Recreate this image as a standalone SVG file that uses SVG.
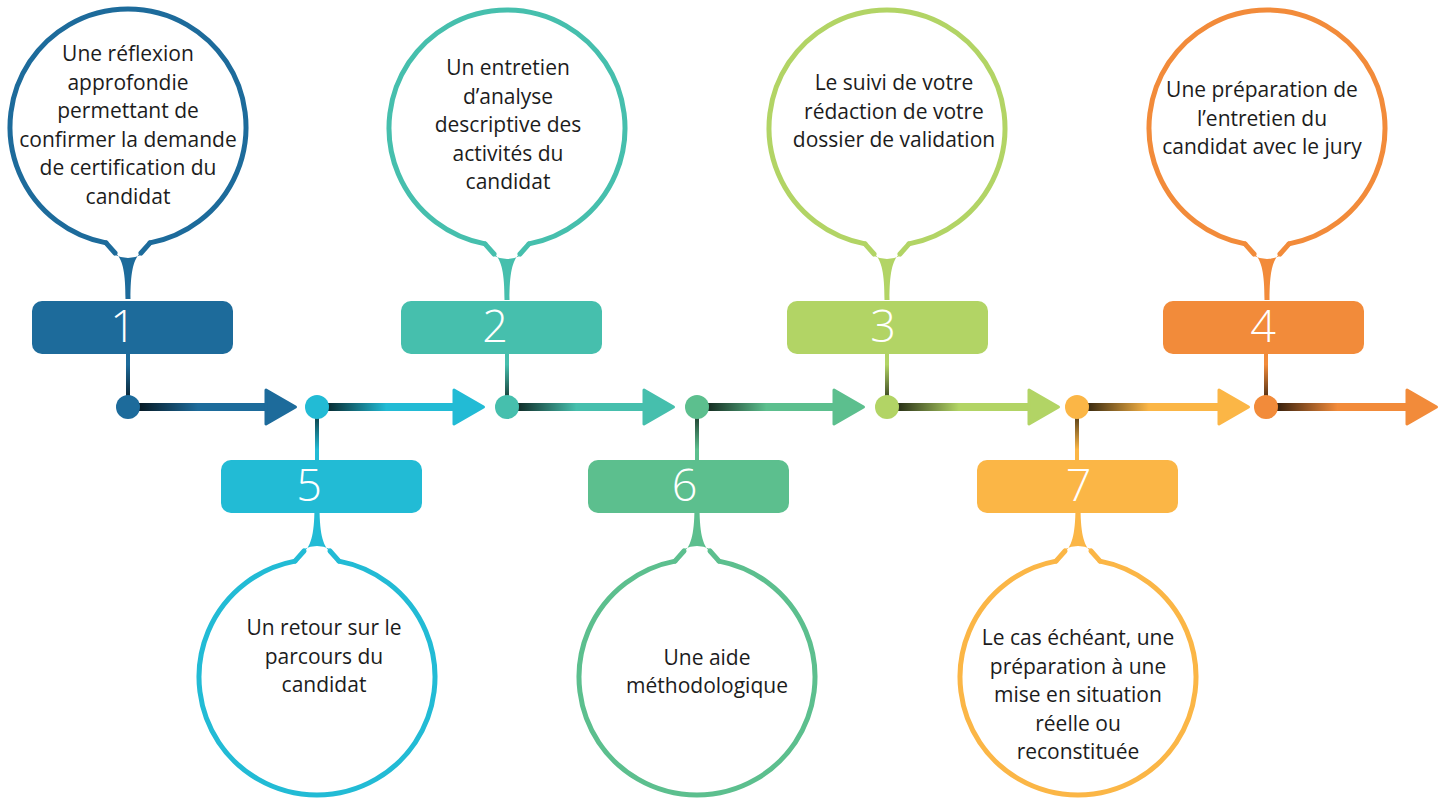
<svg xmlns="http://www.w3.org/2000/svg" xmlns:xlink="http://www.w3.org/1999/xlink" width="1448" height="803" viewBox="0 0 1448 803">
<style>
.t{font-family:"Open Sans","Liberation Sans",sans-serif;font-size:21px;fill:#1c1c1c;text-anchor:middle}
.n{font-family:"Open Sans","Liberation Sans",sans-serif;font-size:45px;font-weight:300;fill:#ffffff;text-anchor:middle}
.head{stroke-width:3;stroke-linejoin:round}
</style>
<defs>
<linearGradient id="fadeR" x1="0" y1="0" x2="1" y2="0">
<stop offset="0.06" stop-color="#000" stop-opacity="0.8"/>
<stop offset="0.5" stop-color="#000" stop-opacity="0"/>
</linearGradient>
<linearGradient id="fadeDown" x1="0" y1="0" x2="0" y2="1">
<stop offset="0.25" stop-color="#000" stop-opacity="0"/>
<stop offset="1" stop-color="#000" stop-opacity="0.75"/>
</linearGradient>
<linearGradient id="fadeUp" x1="0" y1="0" x2="0" y2="1">
<stop offset="0" stop-color="#000" stop-opacity="0.75"/>
<stop offset="0.75" stop-color="#000" stop-opacity="0"/>
</linearGradient>
<g id="bubble">
<path d="M -22,115.9 A 118 118 0 1 1 22,115.9" fill="#ffffff" stroke="currentColor" stroke-width="5" stroke-linecap="round"/>
<path d="M -22,115.9 L -13,126 M 22,115.9 L 13,126" fill="none" stroke="currentColor" stroke-width="5" stroke-linecap="round"/>
<path d="M -15,123.5 C -6,130 -2.5,142 -2.5,172 L 2.5,172 C 2.5,142 6,130 15,123.5 L 13,128 Q 0,134 -13,128 Z" fill="currentColor"/>
</g>
</defs>
<rect width="1448" height="803" fill="#ffffff"/>

<g id="connectors">
<rect x="126" y="352" width="4" height="50" fill="#1d6b9b"/><rect x="126" y="352" width="4" height="50" fill="url(#fadeDown)"/>
<rect x="505" y="352" width="4" height="50" fill="#46bfad"/><rect x="505" y="352" width="4" height="50" fill="url(#fadeDown)"/>
<rect x="885" y="352" width="4" height="50" fill="#b2d465"/><rect x="885" y="352" width="4" height="50" fill="url(#fadeDown)"/>
<rect x="1264" y="352" width="4" height="50" fill="#f28b3a"/><rect x="1264" y="352" width="4" height="50" fill="url(#fadeDown)"/>
<rect x="315" y="412" width="4" height="50" fill="#22bbd5"/><rect x="315" y="412" width="4" height="50" fill="url(#fadeUp)"/>
<rect x="695" y="412" width="4" height="50" fill="#5cbf8e"/><rect x="695" y="412" width="4" height="50" fill="url(#fadeUp)"/>
<rect x="1075" y="412" width="4" height="50" fill="#fbb646"/><rect x="1075" y="412" width="4" height="50" fill="url(#fadeUp)"/>
<g fill="#1d6b9b" stroke="#1d6b9b"><rect x="128" y="403" width="140" height="8" stroke="none"/><rect x="128" y="403" width="140" height="8" stroke="none" fill="url(#fadeR)"/><polygon class="head" points="266,390 295.5,407 266,424"/></g>
<g fill="#22bbd5" stroke="#22bbd5"><rect x="317" y="403" width="139" height="8" stroke="none"/><rect x="317" y="403" width="139" height="8" stroke="none" fill="url(#fadeR)"/><polygon class="head" points="454,390 483.5,407 454,424"/></g>
<g fill="#46bfad" stroke="#46bfad"><rect x="507" y="403" width="139" height="8" stroke="none"/><rect x="507" y="403" width="139" height="8" stroke="none" fill="url(#fadeR)"/><polygon class="head" points="644,390 673.5,407 644,424"/></g>
<g fill="#5cbf8e" stroke="#5cbf8e"><rect x="697" y="403" width="139" height="8" stroke="none"/><rect x="697" y="403" width="139" height="8" stroke="none" fill="url(#fadeR)"/><polygon class="head" points="834,390 863.5,407 834,424"/></g>
<g fill="#b2d465" stroke="#b2d465"><rect x="887" y="403" width="144" height="8" stroke="none"/><rect x="887" y="403" width="144" height="8" stroke="none" fill="url(#fadeR)"/><polygon class="head" points="1029,390 1058.5,407 1029,424"/></g>
<g fill="#fbb646" stroke="#fbb646"><rect x="1077" y="403" width="144" height="8" stroke="none"/><rect x="1077" y="403" width="144" height="8" stroke="none" fill="url(#fadeR)"/><polygon class="head" points="1219,390 1248.5,407 1219,424"/></g>
<g fill="#f28b3a" stroke="#f28b3a"><rect x="1266" y="403" width="143" height="8" stroke="none"/><rect x="1266" y="403" width="143" height="8" stroke="none" fill="url(#fadeR)"/><polygon class="head" points="1407,390 1436.5,407 1407,424"/></g>
</g>

<g id="node1" style="color:#1d6b9b">
<use href="#bubble" transform="translate(128,127)"/>
<rect x="32" y="301" width="201" height="53" rx="10" fill="#1d6b9b"/>
<text class="n" x="123" y="342">1</text>
<circle cx="128" cy="407" r="12" fill="#1d6b9b"/>
<text class="t" x="128" y="61">Une réflexion</text>
<text class="t" x="128" y="89.5">approfondie</text>
<text class="t" x="128" y="118">permettant de</text>
<text class="t" x="128" y="146.5">confirmer la demande</text>
<text class="t" x="128" y="175">de certification du</text>
<text class="t" x="128" y="203.5">candidat</text>
</g>

<g id="node2" style="color:#46bfad">
<use href="#bubble" transform="translate(507,128)"/>
<rect x="401" y="301" width="201" height="53" rx="10" fill="#46bfad"/>
<text class="n" x="495" y="342">2</text>
<circle cx="507" cy="407" r="12" fill="#46bfad"/>
<text class="t" x="508" y="75">Un entretien</text>
<text class="t" x="508" y="103.5">d’analyse</text>
<text class="t" x="508" y="132">descriptive des</text>
<text class="t" x="508" y="160.5">activités du</text>
<text class="t" x="508" y="189">candidat</text>
</g>

<g id="node3" style="color:#b2d465">
<use href="#bubble" transform="translate(887,128)"/>
<rect x="787" y="301" width="201" height="53" rx="10" fill="#b2d465"/>
<text class="n" x="883" y="342">3</text>
<circle cx="887" cy="407" r="12" fill="#b2d465"/>
<text class="t" x="894" y="90">Le suivi de votre</text>
<text class="t" x="894" y="118.5">rédaction de votre</text>
<text class="t" x="894" y="147">dossier de validation</text>
</g>

<g id="node4" style="color:#f28b3a">
<use href="#bubble" transform="translate(1267,128)"/>
<rect x="1163" y="301" width="201" height="53" rx="10" fill="#f28b3a"/>
<text class="n" x="1263" y="342">4</text>
<circle cx="1266" cy="407" r="12" fill="#f28b3a"/>
<text class="t" x="1262" y="97">Une préparation de</text>
<text class="t" x="1262" y="125.5">l’entretien du</text>
<text class="t" x="1262" y="154">candidat avec le jury</text>
</g>

<g id="node5" style="color:#22bbd5">
<use href="#bubble" transform="translate(317,677) scale(1,-1)"/>
<rect x="221" y="460" width="201" height="53" rx="10" fill="#22bbd5"/>
<text class="n" x="309" y="501">5</text>
<circle cx="317" cy="407" r="12" fill="#22bbd5"/>
<text class="t" x="324" y="635">Un retour sur le</text>
<text class="t" x="324" y="663.5">parcours du</text>
<text class="t" x="324" y="692">candidat</text>
</g>

<g id="node6" style="color:#5cbf8e">
<use href="#bubble" transform="translate(697,677) scale(1,-1)"/>
<rect x="588" y="460" width="201" height="53" rx="10" fill="#5cbf8e"/>
<text class="n" x="684.5" y="501">6</text>
<circle cx="697" cy="407" r="12" fill="#5cbf8e"/>
<text class="t" x="707" y="665">Une aide</text>
<text class="t" x="707" y="693">méthodologique</text>
</g>

<g id="node7" style="color:#fbb646">
<use href="#bubble" transform="translate(1078,677) scale(1,-1)"/>
<rect x="977" y="460" width="201" height="53" rx="10" fill="#fbb646"/>
<text class="n" x="1078.5" y="501">7</text>
<circle cx="1077" cy="407" r="12" fill="#fbb646"/>
<text class="t" x="1078" y="645">Le cas échéant, une</text>
<text class="t" x="1078" y="673.5">préparation à une</text>
<text class="t" x="1078" y="702">mise en situation</text>
<text class="t" x="1078" y="730.5">réelle ou</text>
<text class="t" x="1078" y="759">reconstituée</text>
</g>
</svg>
